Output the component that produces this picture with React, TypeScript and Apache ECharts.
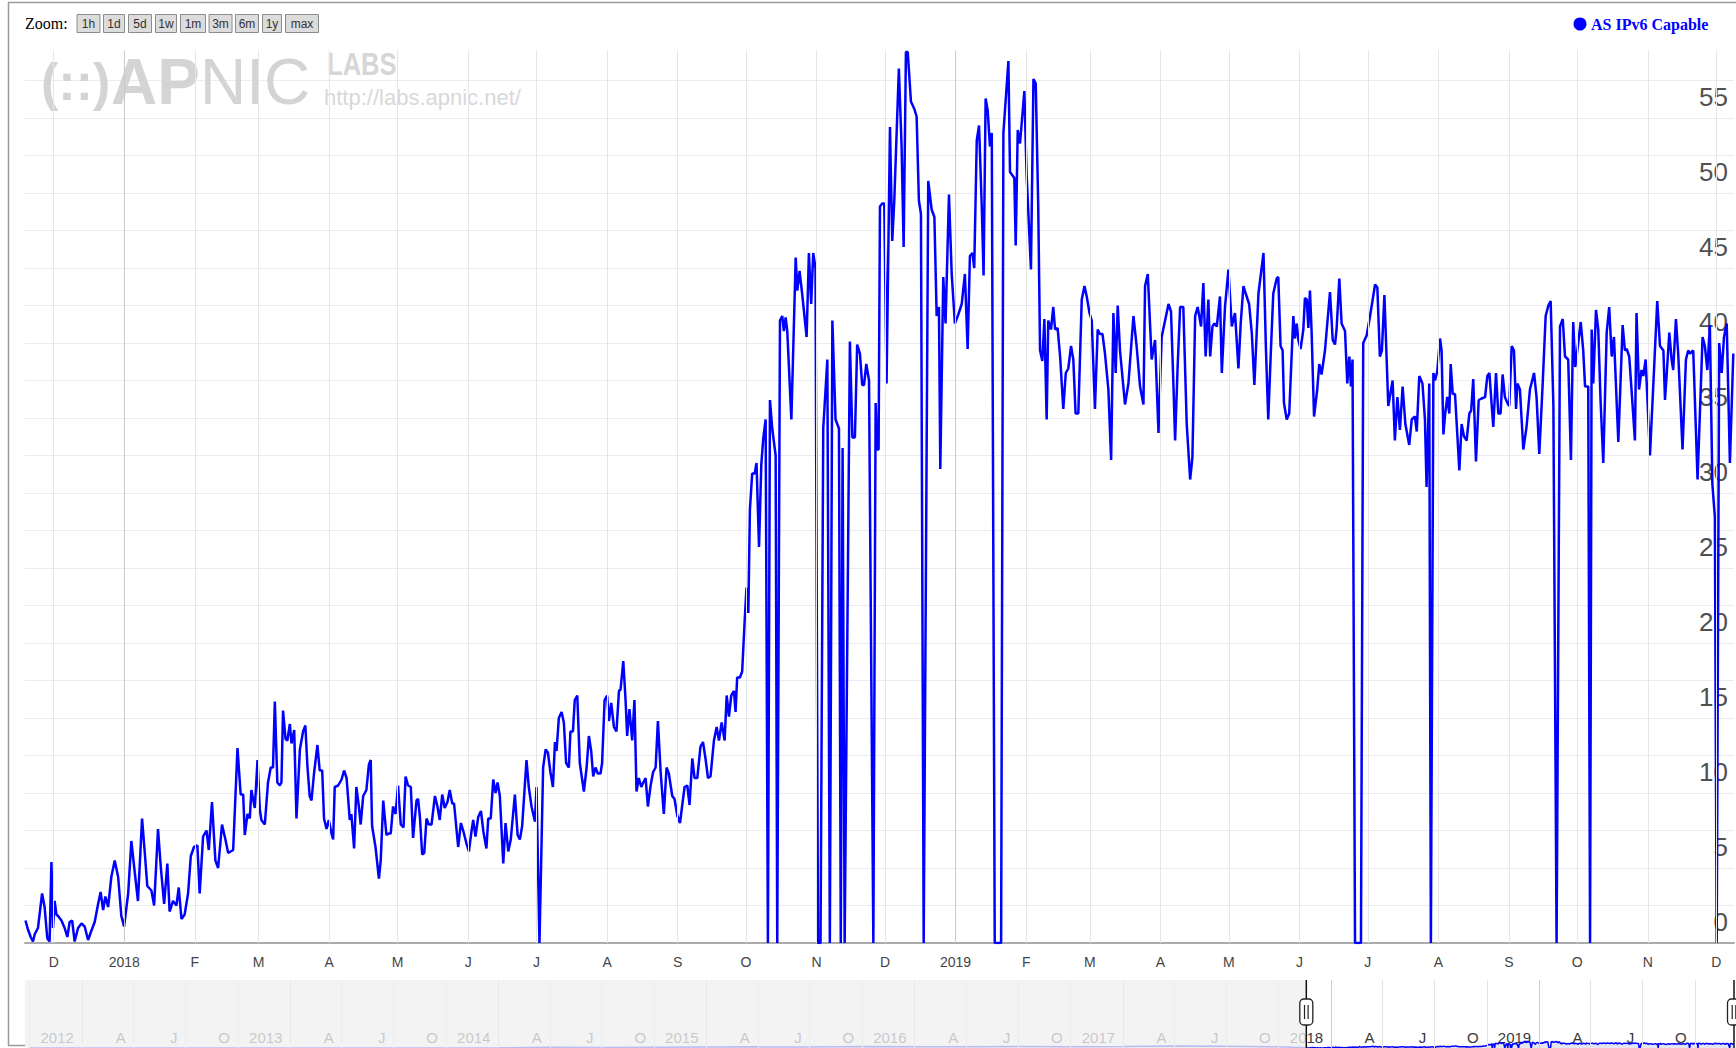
import React, { useEffect, useRef } from 'react';
import * as echarts from 'echarts';

const DAY_MS = 86400000;
const ORIGIN = Date.UTC(2017, 11, 1); // day 0 = 2017-12-01

// [days since 2017-12-01, AS IPv6 Capable]
const nov2017ToJun2018: [number, number][] = [
  [-12.4, 1.5], [-11.3, 0.9], [-10.1, 0.4], [-9.1, 0.1], [-8.3, 0.6], [-6.9, 1.0], [-5.1, 3.3], [-4.0, 2.4], [-2.8, 0.3], [-1.8, 0.1],
  [-1.0, 5.4], [-0.3, 1.0], [0.4, 2.8], [1.2, 1.9], [1.9, 1.8], [3.4, 1.5], [4.8, 1.0], [6.0, 0.4], [7.0, 1.4], [8.1, 1.5],
  [9.2, 0.1], [10.7, 1.0], [12.2, 1.3], [13.6, 1.1], [15.1, 0.2], [16.5, 0.8], [18.0, 1.4], [19.5, 2.6], [20.6, 3.4], [21.7, 2.2],
  [22.7, 3.1], [23.9, 2.4], [25.3, 4.4], [26.8, 5.5], [28.3, 4.4], [29.7, 1.8], [30.9, 1.1], [32.7, 3.3], [34.1, 6.8], [35.6, 4.7],
  [37.0, 2.8], [38.8, 8.3], [40.0, 6.0], [41.1, 3.8], [42.9, 3.5], [44.1, 2.5], [45.8, 7.6], [47.0, 5.1], [48.5, 2.6], [49.9, 5.3],
  [50.9, 2.1], [52.4, 2.8], [53.9, 2.5], [54.9, 3.7], [56.1, 1.6], [57.5, 1.9], [59.0, 3.3], [60.2, 5.8], [61.6, 6.4], [63.1, 6.5],
  [64.1, 3.3], [65.6, 7.1], [67.1, 7.5], [68.1, 6.2], [69.5, 9.4], [71.0, 5.5], [72.2, 5.0], [73.9, 7.9], [75.4, 6.9], [76.6, 6.0],
  [78.8, 6.2], [80.7, 13.0], [82.1, 9.9], [83.2, 9.9], [83.9, 7.2], [85.1, 8.6], [86.1, 8.3], [86.8, 10.2], [88.3, 9.0], [89.5, 12.2],
  [90.5, 8.9], [91.2, 8.2], [92.7, 7.9], [94.1, 10.7], [95.3, 11.7], [96.3, 11.7], [97.1, 16.1], [98.2, 10.7], [99.3, 10.5], [100.0, 10.7],
  [100.7, 15.5], [101.8, 13.6], [102.6, 13.5], [103.7, 14.6], [104.4, 13.3], [105.6, 14.2], [106.6, 8.3], [108.1, 12.9], [109.5, 14.1], [110.5, 14.5],
  [111.4, 11.8], [112.4, 9.8], [113.2, 9.5], [114.3, 11.3], [115.8, 13.2], [116.8, 11.5], [117.9, 11.5], [118.7, 8.3], [119.8, 7.6], [120.8, 8.2],
  [122.0, 7.3], [122.7, 6.9], [123.4, 10.4], [124.9, 10.5], [126.4, 10.9], [127.5, 11.5], [128.6, 11.0], [130.0, 8.2], [130.7, 8.6], [131.9, 6.3],
  [132.9, 10.4], [134.0, 9.1], [134.8, 7.9], [135.9, 9.8], [137.3, 10.2], [138.4, 11.9], [139.2, 12.2], [139.8, 7.8], [141.3, 6.4], [142.8, 4.3],
  [143.6, 5.5], [144.7, 9.5], [146.1, 7.2], [147.1, 7.3], [148.0, 7.3], [149.0, 9.1], [150.1, 8.6], [151.2, 10.5], [152.4, 7.9], [153.6, 7.7],
  [154.5, 11.1], [155.6, 10.5], [156.8, 10.4], [157.8, 7.0], [159.3, 9.5], [160.0, 9.6], [160.8, 8.4], [161.8, 5.9], [162.7, 6.0], [163.7, 8.3],
  [164.7, 7.9], [165.9, 7.9], [167.4, 9.8], [168.5, 9.1], [169.5, 8.2], [170.6, 9.9], [171.7, 9.0], [172.9, 9.4], [173.9, 10.2], [175.0, 9.3],
  [175.8, 9.3], [177.6, 6.4], [178.8, 8.0], [179.8, 7.5], [181.3, 6.6], [182.3, 6.1], [183.5, 7.5], [184.2, 8.2], [185.2, 7.1], [186.4, 8.4],
  [187.6, 8.8], [188.7, 7.4], [190.0, 6.3], [190.8, 8.3], [191.9, 8.3], [193.0, 10.9], [194.0, 10.0], [194.9, 10.7], [195.9, 9.8], [197.4, 5.3],
  [198.4, 8.0], [199.6, 6.1], [200.7, 6.9], [202.5, 9.9], [203.7, 7.2], [204.7, 6.9], [205.7, 7.8], [207.6, 12.2], [208.6, 10.4], [209.8, 9.1],
  [211.3, 8.1], [212.0, 10.4]
];

const jul2018ToDec2018: [number, number][] = [
  [213.3, 0], [214.9, 11.7], [216.0, 12.9], [217.0, 12.7], [218.1, 11.4], [219.2, 10.4], [220.1, 13.4], [220.8, 12.8], [221.8, 15.0], [223.0, 15.4],
  [224.0, 14.7], [225.0, 12.0], [226.2, 11.7], [226.9, 14.1], [228.0, 14.1], [228.8, 16.2], [229.9, 16.5], [231.0, 12.0], [232.8, 10.1], [234.0, 11.7],
  [235.0, 13.8], [236.0, 12.8], [236.9, 11.1], [237.9, 11.7], [238.9, 11.3], [240.1, 11.3], [240.8, 12.0], [241.9, 16.2], [243.0, 16.5], [243.8, 14.8],
  [244.8, 16.0], [246.0, 14.4], [247.1, 14.1], [248.2, 16.8], [248.9, 16.9], [250.1, 18.8], [251.1, 16.2], [251.8, 13.8], [252.8, 15.6], [254.0, 13.5],
  [255.0, 16.2], [255.9, 10.1], [256.9, 11.0], [258.0, 10.4], [258.9, 10.7], [259.9, 11.0], [260.9, 9.1], [262.1, 10.5], [263.2, 11.4], [264.3, 11.7],
  [265.3, 14.8], [266.5, 11.4], [267.9, 8.6], [269.1, 11.7], [270.1, 11.3], [271.6, 9.8], [272.6, 9.6], [273.8, 8.5], [275.0, 8.0], [276.0, 9.2],
  [277.0, 10.4], [278.2, 10.5], [279.2, 9.2], [280.4, 12.3], [281.4, 11.0], [282.6, 11.0], [284.0, 13.1], [285.1, 13.4], [286.2, 12.3], [287.3, 11.0],
  [288.4, 11.1], [289.9, 13.5], [291.1, 14.4], [292.1, 13.5], [293.3, 14.7], [294.6, 13.5], [295.5, 16.5], [296.5, 15.1], [297.5, 16.5], [298.7, 16.8],
  [299.4, 15.4], [300.1, 17.7], [301.3, 17.7], [302.3, 18.1], [303.4, 21.5], [304.2, 23.7], [305.0, 22.0], [305.7, 28.9], [306.7, 31.3], [307.8, 31.3],
  [308.6, 32.0], [309.7, 26.4], [310.7, 31.9], [311.6, 33.7], [312.6, 34.9], [313.6, 0], [314.5, 36.2], [315.5, 34.3], [317.0, 32.5], [317.7, 0],
  [318.9, 41.5], [319.9, 41.8], [320.6, 40.8], [321.4, 41.7], [322.1, 40.8], [323.9, 34.9], [325.8, 45.7], [326.5, 43.5], [327.5, 44.8], [328.7, 43.2],
  [330.6, 40.4], [331.6, 46.0], [332.6, 42.6], [333.5, 46.0], [334.5, 45.0], [335.6, 0], [336.7, 0], [337.9, 34.3], [339.7, 38.9], [340.8, 0],
  [341.9, 41.5], [343.3, 34.9], [344.8, 34.3], [345.6, 0], [346.4, 33.0], [347.3, 0], [349.6, 40.1], [350.7, 33.7], [351.8, 33.7], [352.8, 39.9],
  [354.0, 39.3], [355.0, 37.2], [355.8, 37.2], [356.8, 38.6], [358.0, 37.5], [359.9, 0]
];

const dec2018ToMay2019: [number, number][] = [
  [360.9, 36.0], [361.6, 32.9], [362.2, 32.9], [362.8, 49.1], [363.8, 49.3], [364.7, 49.3], [365.7, 37.3], [367.2, 54.4], [368.2, 46.8], [369.1, 49.5],
  [371.1, 58.3], [372.3, 53.1], [373.2, 46.4], [374.2, 59.4], [375.0, 59.4], [376.4, 56.1], [377.9, 55.6], [378.9, 55.1], [379.9, 49.5], [380.8, 48.6],
  [382.0, 0], [384.0, 50.8], [385.5, 48.9], [386.7, 48.4], [387.7, 41.8], [388.7, 42.4], [389.3, 31.6], [390.6, 44.4], [391.6, 41.3], [393.1, 49.9],
  [394.3, 44.6], [395.7, 41.3], [397.2, 41.9], [398.7, 42.6], [400.1, 44.6], [401.3, 39.6], [402.3, 45.8], [403.4, 46.0], [404.2, 45.0], [405.3, 53.5],
  [406.3, 54.5], [407.5, 49.1], [408.3, 44.5], [409.2, 56.3], [410.1, 55.5], [411.1, 53.1], [411.9, 54.0], [413.2, 0], [414.6, 0], [416.0, 0],
  [417.0, 54.0], [419.2, 58.8], [419.9, 51.4], [421.8, 51.0], [422.4, 46.5], [423.3, 54.2], [424.3, 53.3], [426.2, 56.8], [427.2, 51.2], [429.1, 44.9],
  [430.2, 57.6], [431.2, 57.3], [432.3, 49.1], [433.1, 39.5], [434.1, 38.8], [435.0, 41.6], [436.0, 34.9], [436.7, 41.5], [437.9, 40.9], [438.9, 42.4],
  [439.7, 40.9], [440.8, 41.0], [441.9, 39.1], [443.3, 35.6], [444.4, 38.0], [445.5, 38.3], [446.7, 39.8], [447.7, 38.9], [448.7, 35.3], [449.9, 35.3],
  [451.4, 42.9], [452.6, 43.8], [453.6, 43.1], [454.8, 42.0], [455.8, 41.5], [457.2, 35.6], [458.4, 40.9], [459.4, 40.6], [460.5, 40.6], [461.6, 39.3],
  [463.1, 36.9], [464.3, 32.2], [465.3, 42.0], [466.3, 38.0], [467.2, 42.5], [468.2, 39.5], [470.4, 35.9], [471.9, 37.3], [474.1, 41.8], [475.5, 39.8],
  [477.0, 37.1], [478.5, 35.9], [479.2, 43.8], [480.4, 44.6], [482.1, 38.9], [483.6, 40.2], [485.1, 34.0], [486.5, 40.4], [488.0, 41.5], [489.5, 42.6],
  [490.6, 42.1], [491.6, 37.5], [492.4, 33.5], [493.5, 38.4], [494.6, 42.4], [496.0, 42.4], [497.5, 34.6], [499.0, 30.9], [500.0, 32.4], [501.2, 41.8],
  [502.3, 42.4], [503.8, 41.1], [504.8, 44.0], [505.8, 39.1], [507.0, 42.9], [507.8, 39.1], [508.8, 41.1], [509.7, 41.3], [510.7, 41.1], [512.1, 43.1],
  [512.9, 38.0], [514.3, 42.4], [515.8, 44.9], [517.3, 41.1], [518.7, 42.0], [520.2, 38.3], [521.2, 41.3], [522.4, 43.8], [523.4, 43.3], [524.9, 42.6],
  [526.1, 40.6], [527.2, 37.2], [529.0, 43.3], [531.2, 46.0]
];

const may2019ToDec2019: [number, number][] = [
  [532.3, 39.5], [533.3, 34.9], [534.3, 38.9], [535.5, 43.3], [537.0, 44.3], [537.7, 44.4], [538.7, 39.8], [539.6, 39.5], [540.2, 36.0], [541.4, 34.9],
  [542.5, 35.3], [544.3, 41.8], [545.0, 40.3], [545.8, 41.3], [546.5, 40.2], [547.5, 39.6], [548.7, 40.9], [549.4, 43.0], [550.2, 42.9], [550.9, 41.0],
  [551.6, 43.5], [552.3, 40.9], [553.4, 35.1], [554.8, 36.9], [555.7, 38.6], [556.7, 37.9], [558.2, 39.5], [560.4, 43.4], [561.6, 40.2], [562.6, 39.9],
  [563.3, 40.9], [564.5, 44.3], [565.5, 41.3], [567.0, 40.8], [568.0, 37.3], [568.9, 39.1], [569.6, 37.1], [570.3, 38.9], [571.4, 0], [572.8, 0],
  [574.0, 0], [575.0, 40.0], [576.5, 40.5], [578.0, 41.8], [580.2, 43.9], [581.2, 43.7], [582.3, 39.1], [583.2, 39.5], [584.3, 43.2], [586.0, 35.8],
  [587.9, 37.5], [588.9, 33.5], [590.0, 36.4], [591.1, 34.2], [592.3, 37.1], [593.5, 34.6], [595.2, 33.2], [596.3, 34.9], [597.7, 35.1], [598.5, 34.1],
  [599.6, 37.8], [601.0, 37.3], [602.1, 34.9], [602.8, 30.4], [604.0, 37.3], [604.7, 0], [605.8, 38.0], [606.5, 37.5], [607.5, 38.1], [608.7, 40.3],
  [609.4, 39.5], [610.2, 33.9], [611.0, 35.3], [611.9, 36.4], [612.8, 35.3], [613.4, 38.6], [614.3, 36.6], [615.3, 36.6], [617.2, 31.5], [618.2, 34.6],
  [619.2, 33.8], [620.4, 33.5], [621.6, 35.3], [622.4, 35.5], [623.3, 37.6], [624.5, 32.1], [625.7, 36.2], [627.0, 36.3], [628.5, 36.4], [629.5, 37.8],
  [630.4, 38.0], [632.1, 34.4], [633.3, 38.0], [634.3, 35.3], [635.3, 35.3], [636.2, 37.9], [637.2, 36.4], [638.3, 36.0], [639.1, 35.8], [640.2, 39.8],
  [641.2, 39.5], [642.1, 35.6], [642.7, 37.3], [643.8, 36.9], [645.3, 32.9], [646.7, 34.4], [648.2, 36.9], [650.0, 38.0], [651.1, 36.4], [652.3, 32.6],
  [653.8, 37.3], [655.1, 41.8], [656.3, 42.5], [657.3, 42.8], [658.5, 35.8], [659.9, 0], [661.4, 41.1], [662.6, 41.6], [663.6, 39.1], [665.0, 38.9],
  [666.2, 32.2], [667.2, 41.4], [668.1, 38.4], [669.4, 40.0], [670.5, 41.4], [671.6, 39.5], [672.4, 37.1], [673.8, 37.1], [674.6, 0], [675.3, 40.9],
  [676.0, 37.3], [677.2, 42.2], [678.2, 40.9], [679.2, 36.2], [680.4, 32.0], [681.9, 40.7], [683.0, 42.4], [684.1, 39.1], [685.1, 40.4], [687.0, 33.4],
  [688.9, 41.2], [689.9, 39.5], [690.7, 39.6], [691.8, 39.1], [692.8, 36.9], [694.3, 33.5], [695.0, 42.0], [696.1, 36.9], [697.2, 38.2], [698.0, 37.8],
  [699.0, 38.9], [700.9, 32.5], [702.4, 37.3], [704.1, 42.8], [705.3, 39.8], [706.8, 39.5], [707.5, 36.2], [708.2, 37.8], [709.4, 40.7], [710.4, 38.9],
  [711.1, 38.2], [712.3, 41.6], [713.3, 39.3], [715.2, 32.9], [716.7, 38.9], [717.7, 39.5], [718.5, 39.3], [719.9, 39.5], [721.8, 30.9], [724.0, 40.4],
  [725.0, 39.8], [726.1, 38.2], [727.2, 41.2], [728.3, 30.6], [729.4, 28.4], [730.2, 0], [731.3, 40.0], [732.4, 38.0], [733.4, 40.4], [734.6, 41.3],
  [736.0, 32.0], [737.5, 39.3]
];

// Coarse earlier history shown only in the range selector (quarterly)
const historyDates = [
  '2011-10-01', '2012-01-01', '2012-04-01', '2012-07-01', '2012-10-01', '2013-01-01', '2013-04-01', '2013-07-01', '2013-10-01',
  '2014-01-01', '2014-04-01', '2014-07-01', '2014-10-01', '2015-01-01', '2015-04-01', '2015-07-01', '2015-10-01',
  '2016-01-01', '2016-04-01', '2016-07-01', '2016-10-01', '2017-01-01', '2017-04-01', '2017-07-01', '2017-10-01'
];
const historyValues = [0, 0, 0, 0, 0, 0, 0.5, 0.5, 1, 2, 6, 5, 6, 8, 10, 9, 14, 12, 12, 13, 12, 14, 18, 16, 10];

const mainTickDates = [
  '2017-12-01', '2018-01-01', '2018-02-01', '2018-03-01', '2018-04-01', '2018-05-01', '2018-06-01', '2018-07-01', '2018-08-01',
  '2018-09-01', '2018-10-01', '2018-11-01', '2018-12-01', '2019-01-01', '2019-02-01', '2019-03-01', '2019-04-01', '2019-05-01',
  '2019-06-01', '2019-07-01', '2019-08-01', '2019-09-01', '2019-10-01', '2019-11-01', '2019-12-01'
];
const selectorTickDates = [
  '2011-10-01', '2012-01-01', '2012-04-01', '2012-07-01', '2012-10-01', '2013-01-01', '2013-04-01', '2013-07-01', '2013-10-01',
  '2014-01-01', '2014-04-01', '2014-07-01', '2014-10-01', '2015-01-01', '2015-04-01', '2015-07-01', '2015-10-01',
  '2016-01-01', '2016-04-01', '2016-07-01', '2016-10-01', '2017-01-01', '2017-04-01', '2017-07-01', '2017-10-01',
  '2018-01-01', '2018-04-01', '2018-07-01', '2018-10-01', '2019-01-01', '2019-04-01', '2019-07-01', '2019-10-01'
];
const monthInitials = ['J', 'F', 'M', 'A', 'M', 'J', 'J', 'A', 'S', 'O', 'N', 'D'];
const zoomButtons = ['1h', '1d', '5d', '1w', '1m', '3m', '6m', '1y', 'max'];
const yTickStep = 2.5;
const yLabelStep = 5;

const toMs = (d: string) => Date.parse(d + 'T00:00:00Z');
const dayToMs = (day: number) => ORIGIN + day * DAY_MS;
const dateLabel = (v: number) => {
  const dt = new Date(v);
  const m = dt.getUTCMonth();
  return m === 0 ? String(dt.getUTCFullYear()) : monthInitials[m];
};

export default function App() {
  const ref = useRef<HTMLDivElement>(null);
  useEffect(() => {
    document.body.style.margin = '0';
    if (!ref.current) return;
    const chart = echarts.init(ref.current, null, { renderer: 'svg' });

    const segments = [nov2017ToJun2018, jul2018ToDec2018, dec2018ToMay2019, may2019ToDec2019];
    const mainData: [number, number][] = [];
    segments.forEach((seg) => seg.forEach(([d, v]) => mainData.push([dayToMs(d), v])));
    const historyData: [number, number][] = historyDates.map((d, i) => [toMs(d), historyValues[i]]);
    const selectorData = historyData.concat(mainData);

    const mainMin = dayToMs(-12.6);
    const mainMax = dayToMs(737.8);
    const selMin = dayToMs(-2260.7);

    const sans = 'Liberation Sans, Arial, sans-serif';
    const serif = 'Liberation Serif, Times New Roman, serif';

    chart.setOption({
      animation: false,
      backgroundColor: '#ffffff',
      grid: [
        { left: 25, right: 2, top: 50.5, bottom: 105, outerBoundsMode: 'none', containLabel: false },
        { left: 25, right: 2, top: 980, bottom: 0, outerBoundsMode: 'none', containLabel: false }
      ],
      xAxis: [
        {
          type: 'value', gridIndex: 0, min: mainMin, max: mainMax,
          axisLine: { show: true, onZero: false, lineStyle: { color: '#ababab', width: 2 } },
          axisTick: { show: false }, splitLine: { show: false },
          axisLabel: {
            customValues: mainTickDates.map(toMs), formatter: (v: number) => dateLabel(v),
            color: '#444444', fontSize: 14, fontFamily: sans, margin: 12
          }
        },
        {
          type: 'value', gridIndex: 1, min: selMin, max: mainMax,
          axisLine: { show: false }, axisTick: { show: false }, splitLine: { show: false },
          axisLabel: {
            inside: true, customValues: selectorTickDates.slice(1).map(toMs), formatter: (v: number) => dateLabel(v),
            color: '#3a3a3a', fontSize: 15, fontFamily: sans, align: 'right', verticalAlign: 'middle',
            padding: [0, 8, 0, 0], margin: 11
          }
        }
      ],
      yAxis: [
        {
          type: 'value', gridIndex: 0, position: 'right', min: 0, max: 59.5, interval: yTickStep,
          axisLine: { show: false }, axisTick: { show: false },
          splitLine: { show: true, showMaxLine: false, lineStyle: { color: '#ebebf5', width: 1 } },
          axisLabel: {
            inside: true, formatter: (v: number) => (v % yLabelStep === 0 ? String(v) : ''),
            color: '#505050', fontSize: 26, fontFamily: sans, margin: 6,
            verticalAlign: 'bottom', lineHeight: 42
          }
        },
        { type: 'value', gridIndex: 1, min: 0, max: 600, show: false }
      ],
      series: [
        {
          type: 'line', xAxisIndex: 0, yAxisIndex: 0, data: [], z: 1, silent: true,
          markLine: {
            silent: true, symbol: ['none', 'none'], label: { show: false }, emphasis: { disabled: true },
            data: mainTickDates.map((d) => ({
              xAxis: toMs(d),
              lineStyle: { color: d.endsWith('-01-01') ? '#c9c9c9' : '#e6e6e6', width: 1, type: 'solid' }
            }))
          }
        },
        {
          name: 'AS IPv6 Capable', type: 'line', xAxisIndex: 0, yAxisIndex: 0, data: mainData, z: 3,
          showSymbol: false, symbol: 'none', silent: true,
          lineStyle: { color: '#0000ff', width: 2.5 }
        },
        {
          type: 'line', xAxisIndex: 1, yAxisIndex: 1, data: [], z: 1, silent: true,
          markLine: {
            silent: true, symbol: ['none', 'none'], label: { show: false }, emphasis: { disabled: true },
            data: selectorTickDates.map((d) => ({
              xAxis: toMs(d),
              lineStyle: { color: d.endsWith('-01-01') ? '#cfcfcf' : '#e2e2e2', width: 1, type: 'solid' }
            }))
          }
        },
        {
          type: 'line', xAxisIndex: 1, yAxisIndex: 1, data: selectorData, z: 2,
          showSymbol: false, symbol: 'none', silent: true,
          lineStyle: { color: '#0000ff', width: 1.5 },
          areaStyle: { color: 'rgba(150,150,185,0.35)' }
        }
      ]
    });

    const xStart = chart.convertToPixel({ xAxisIndex: 1 }, mainMin) as number;
    const xEnd = chart.convertToPixel({ xAxisIndex: 1 }, mainMax) as number;

    const graphics: any[] = [];
    // watermark logo
    graphics.push(
      { type: 'text', z: 0, x: 41, y: 82, style: { text: '(::)', font: 'bold 52px ' + sans, fill: '#d4d4d4', textVerticalAlign: 'middle' } },
      { type: 'text', z: 0, x: 111, y: 82, style: { text: 'AP', font: 'bold 64px ' + sans, fill: '#d4d4d4', textVerticalAlign: 'middle' } },
      { type: 'text', z: 0, x: 200, y: 82, style: { text: 'NIC', font: '64px ' + sans, fill: '#d4d4d4', textVerticalAlign: 'middle' } },
      { type: 'text', z: 0, x: 327, y: 64, scaleX: 0.8, style: { text: 'LABS', font: 'bold 32px ' + sans, fill: '#d6d6d6', textVerticalAlign: 'middle' } },
      { type: 'text', z: 0, x: 324, y: 97, style: { text: 'http://labs.apnic.net/', font: '22px ' + sans, fill: '#d8d8d8', textVerticalAlign: 'middle' } }
    );
    // zoom buttons
    graphics.push({ type: 'text', z: 10, x: 25, y: 23, style: { text: 'Zoom:', font: '16px ' + serif, fill: '#000', textVerticalAlign: 'middle' } });
    const btnX = [76.5, 103, 128, 155, 180, 208.5, 235, 262, 285];
    const btnW = [23, 21, 23, 21, 25, 23, 23, 19, 33];
    zoomButtons.forEach((b, i) => {
      graphics.push({ type: 'rect', z: 10, shape: { x: btnX[i] + 0.5, y: 14.5, width: btnW[i], height: 18 }, style: { fill: '#dcdcdc', stroke: '#8c8c8c', lineWidth: 1 } });
      graphics.push({ type: 'text', z: 11, x: btnX[i] + 0.5 + btnW[i] / 2, y: 23.5, style: { text: b, font: '12px ' + sans, fill: '#333', textAlign: 'center', textVerticalAlign: 'middle' } });
    });
    // legend
    graphics.push(
      { type: 'circle', z: 10, shape: { cx: 1580, cy: 24, r: 6.5 }, style: { fill: '#0000ff' } },
      { type: 'text', z: 10, x: 1591, y: 24, style: { text: 'AS IPv6 Capable', font: 'bold 16px ' + serif, fill: '#0000ff', textVerticalAlign: 'middle' } }
    );
    // range selector overlay (unselected part) and handles
    graphics.push({ type: 'rect', z: 100, shape: { x: 25, y: 980, width: xStart - 25, height: 68 }, style: { fill: 'rgba(240,240,240,0.78)' } });
    [xStart, xEnd].forEach((hx) => {
      graphics.push({ type: 'line', z: 101, shape: { x1: hx, y1: 980, x2: hx, y2: 1048 }, style: { stroke: '#111', lineWidth: 1.5 } });
      graphics.push({ type: 'rect', z: 102, shape: { x: hx - 6.5, y: 999, width: 13, height: 26, r: 4 }, style: { fill: '#ffffff', stroke: '#222', lineWidth: 1.3 } });
      graphics.push({ type: 'line', z: 103, shape: { x1: hx - 1.8, y1: 1005, x2: hx - 1.8, y2: 1019 }, style: { stroke: '#222', lineWidth: 1.2 } });
      graphics.push({ type: 'line', z: 103, shape: { x1: hx + 1.8, y1: 1005, x2: hx + 1.8, y2: 1019 }, style: { stroke: '#222', lineWidth: 1.2 } });
    });
    // outer border
    graphics.push({ type: 'polyline', z: 50, shape: { points: [[25, 1045.5], [8.5, 1045.5], [8.5, 2.5], [1736, 2.5]] }, style: { stroke: '#9a9a9a', lineWidth: 1.5, fill: null } });

    chart.setOption({ graphic: graphics });

    return () => chart.dispose();
  }, []);
  return <div ref={ref} style={{ width: 1736, height: 1048 }} />;
}
